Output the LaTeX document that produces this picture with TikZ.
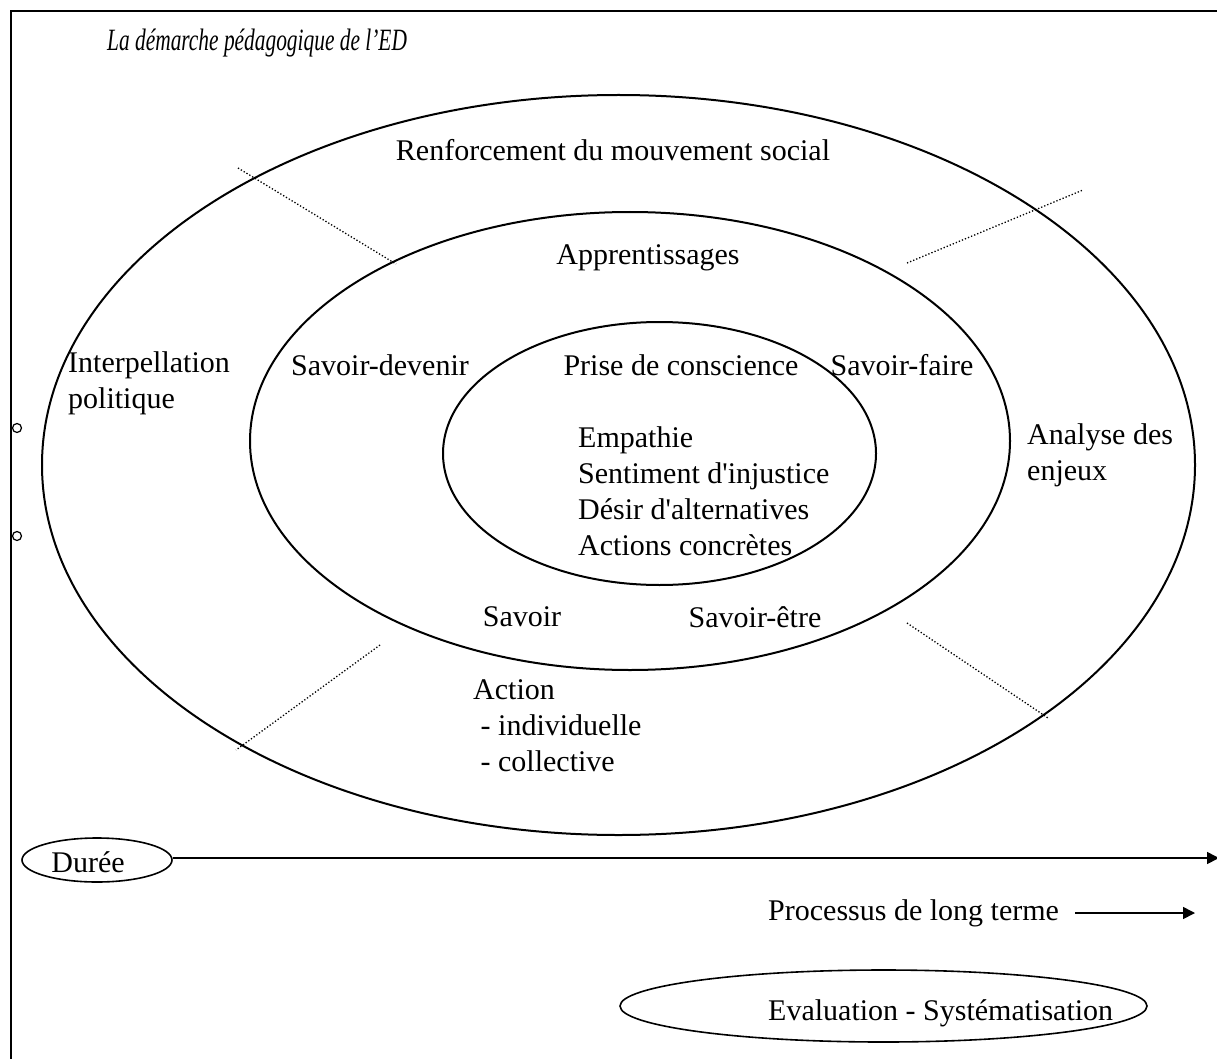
\documentclass[tikz,border=0pt]{standalone}
\usepackage{fontspec}
\setmainfont{Liberation Serif}
\newfontfamily\rawserif{Liberation Serif}[Ligatures=TeXOff]
\usepackage{graphicx}
\usetikzlibrary{arrows.meta,shapes.geometric}
\begin{document}
\begin{tikzpicture}[x=1pt,y=-1pt,
  lbl/.style={font=\fontsize{30}{36}\selectfont, inner sep=0pt},
  ring/.style={draw, ellipse, line width=2pt, inner sep=0pt},
  dotline/.style={dotted, line width=1.3pt},
  frame/.style={line width=2pt},
  tip/.style={line width=1.6pt, -{Triangle[length=12pt,width=12pt]}}]
\useasboundingbox (0,0) rectangle (1217,1059);
% frame
\coordinate (fb) at (11,1059);
\coordinate (fc) at (11,11);
\coordinate (fr) at (1217,11);
\draw[frame] (fb) -- (fc) -- (fr);
\node[draw, circle, line width=1.2pt, minimum size=9pt, inner sep=0pt, fill=white] (c1) at (17,428) {};
\node[draw, circle, line width=1.2pt, minimum size=9pt, inner sep=0pt, fill=white] (c2) at (17,536) {};
% title
\node[lbl, anchor=west, font=\fontsize{31}{36}\selectfont\itshape] (title) at (107,43) {\scalebox{0.69}[1]{La démarche pédagogique de l’ED}};
% ellipses
\node[ring, minimum width=1153pt, minimum height=740pt] (outer) at (618.5,465) {};
\node[ring, minimum width=760pt, minimum height=458pt] (middle) at (630,441) {};
\node[ring, minimum width=433pt, minimum height=263pt] (inner) at (659.5,453.5) {};
% dotted separators
\coordinate (d1a) at (238,168); \coordinate (d1b) at (396,264);
\coordinate (d2a) at (907,263); \coordinate (d2b) at (1083,190);
\coordinate (d3a) at (380,645); \coordinate (d3b) at (236,750);
\coordinate (d4a) at (907,623); \coordinate (d4b) at (1048,718);
\draw[dotline] (d1a) -- (d1b);
\draw[dotline] (d2a) -- (d2b);
\draw[dotline] (d3a) -- (d3b);
\draw[dotline] (d4a) -- (d4b);
% texts
\node[lbl] (renf) at (613,150) {Renforcement du mouvement social};
\node[lbl] (appr) at (648,258) {Apprentissages};
\node[lbl, anchor=west, align=left] (interp) at (68,383) {Interpellation\\politique};
\node[lbl] (sdev) at (380,365) {Savoir-devenir};
\node[lbl] (prise) at (681,365) {Prise de conscience};
\node[lbl] (sfaire) at (902,365) {Savoir-faire};
\node[lbl, anchor=west, align=left] (analyse) at (1027,455) {Analyse des\\enjeux};
\node[lbl, anchor=west, align=left, font=\fontsize{30}{36}\selectfont\rawserif] (emp) at (578,491) {Empathie\\Sentiment d'injustice\\Désir d'alternatives\\Actions concrètes};
\node[lbl] (savoir) at (522,617) {Savoir};
\node[lbl] (setre) at (755,617) {Savoir-être};
\node[lbl, anchor=west, align=left] (action) at (473,726) {Action\\\ - individuelle\\\ - collective};
% duree
\node[ring, line width=1.6pt, minimum width=150pt, minimum height=44pt] (dureeE) at (97,860) {};
\node[lbl] (duree) at (88,862) {Durée};
\coordinate (aend) at (1219,858);
\draw[tip] (dureeE.east |- 0,858) -- (aend);
% processus
\node[lbl, anchor=west] (proc) at (768,913) {Processus de long terme};
\coordinate (pa) at (1075,913); \coordinate (pb) at (1195,913);
\draw[tip] (pa) -- (pb);
% evaluation
\node[ring, line width=1.6pt, minimum width=527pt, minimum height=72pt] (evalE) at (883.5,1006) {};
\node[lbl, anchor=west] (eval) at (768,1013) {Evaluation - Systématisation};
\end{tikzpicture}
\end{document}
